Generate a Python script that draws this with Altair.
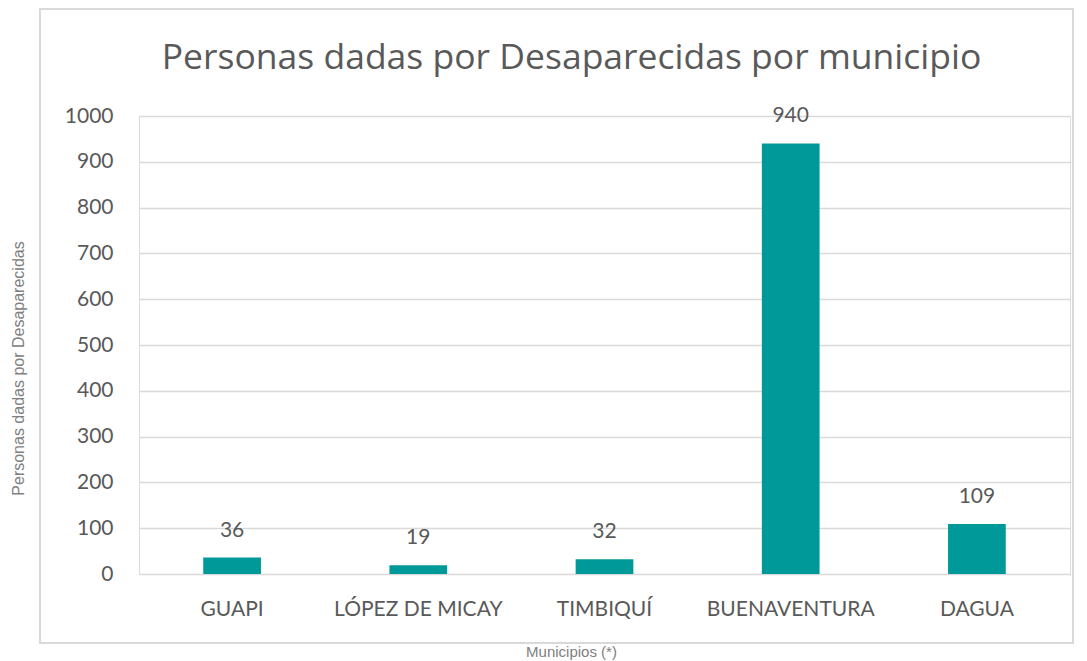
import altair as alt
import pandas as pd

municipios = ["GUAPI", "LÓPEZ DE MICAY", "TIMBIQUÍ", "BUENAVENTURA", "DAGUA"]
personas = [36, 19, 32, 940, 109]

df = pd.DataFrame({"municipio": municipios, "personas": personas})

W, H = 931, 458

frame = alt.Chart(pd.DataFrame({"a": [0]})).mark_rect(
    fill=None, stroke="#d9d9d9", strokeWidth=2
).encode(
    x=alt.value(-99), x2=alt.value(934), y=alt.value(-107), y2=alt.value(527)
)

base = alt.Chart(df).encode(
    x=alt.X(
        "municipio:N",
        sort=municipios,
        scale=alt.Scale(paddingInner=0.69, paddingOuter=0.345),
        axis=alt.Axis(
            title="Municipios (*)",
            labelAngle=0,
            labelFont="Lato",
            labelFontSize=21,
            labelColor="#595959",
            labelPadding=24,
            ticks=False,
            domain=False,
            titleFont="Liberation Sans",
            titleFontSize=15,
            titleFontWeight="normal",
            titleColor="#808080",
            titleX=432,
            titleY=77,
            titleBaseline="middle",
        ),
    ),
    y=alt.Y(
        "personas:Q",
        scale=alt.Scale(domain=[0, 1000]),
        axis=alt.Axis(
            title="Personas dadas por Desaparecidas",
            values=list(range(0, 1001, 100)),
            format="d",
            labelFont="Lato",
            labelFontSize=21,
            labelColor="#595959",
            labelPadding=26,
            ticks=False,
            domain=False,
            gridColor="#d9d9d9",
            gridWidth=1.5,
            titleFont="Liberation Sans",
            titleFontSize=16,
            titleFontWeight="normal",
            titleColor="#808080",
            titleX=-121,
            titleY=252,
            titleBaseline="middle",
        ),
    ),
)

bars = base.mark_bar(color="#009999")
labels = base.mark_text(
    font="Lato", fontSize=21, color="#595959", baseline="middle", dy=-27
).encode(text="personas:Q")

chart = (
    alt.layer(frame, bars, labels)
    .properties(
        width=W,
        height=H,
        title=alt.TitleParams(
            "Personas dadas por Desaparecidas por municipio",
            font="Open Sans",
            fontSize=35.5,
            fontWeight="normal",
            color="#595959",
            anchor="middle",
            dx=-33,
            offset=-68,
        ),
        autosize=alt.AutoSizeParams(type="none"),
        padding={"left": 131, "top": 108, "right": 6, "bottom": 86},
    )
    .configure_view(stroke=None)
    .configure(background="white")
)

chart.save("out.html", embed_options={"renderer": "svg", "actions": False})
